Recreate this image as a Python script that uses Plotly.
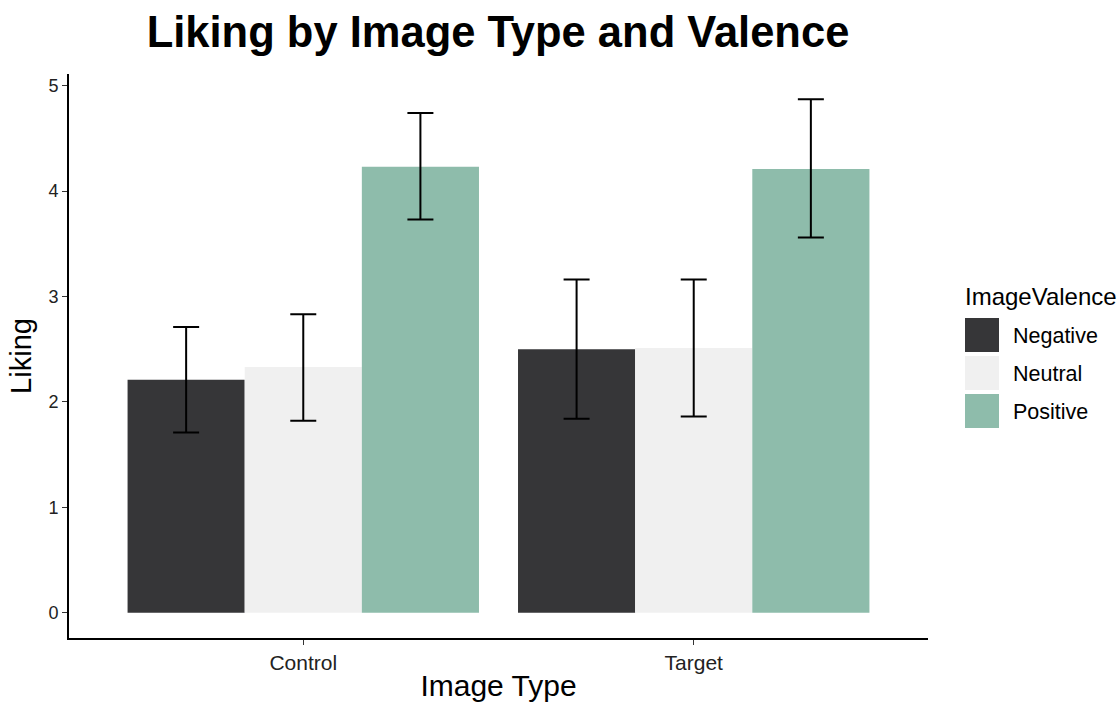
import plotly.graph_objects as go

categories = ["Control", "Target"]
valences = ["Negative", "Neutral", "Positive"]
liking = {
    "Negative": [2.21, 2.50],
    "Neutral": [2.33, 2.51],
    "Positive": [4.23, 4.21],
}
err_hi = {
    "Negative": [2.71, 3.16],
    "Neutral": [2.83, 3.16],
    "Positive": [4.74, 4.87],
}
err_lo = {
    "Negative": [1.71, 1.84],
    "Neutral": [1.82, 1.86],
    "Positive": [3.73, 3.56],
}
colors = {"Negative": "#363638", "Neutral": "#F0F0F0", "Positive": "#8EBCAB"}

FONT = "Liberation Sans, Arial, sans-serif"

W, H = 1119, 704
ML, MT = 69, 74
MR = W - 928
MB = H - 638

fig = go.Figure()
for v in valences:
    fig.add_trace(go.Bar(
        name=v, x=categories, y=liking[v],
        marker=dict(color=colors[v], line=dict(width=0)),
        error_y=dict(
            type="data", symmetric=False,
            array=[h - m for h, m in zip(err_hi[v], liking[v])],
            arrayminus=[m - l for m, l in zip(liking[v], err_lo[v])],
            color="black", thickness=2, width=13,
        ),
        showlegend=False,
    ))

fig.update_layout(
    width=W, height=H,
    barmode="group", bargap=0.1, bargroupgap=0,
    plot_bgcolor="white", paper_bgcolor="white",
    margin=dict(l=ML, r=MR, t=MT, b=MB),
    title=dict(text="<b>Liking by Image Type and Valence</b>",
               x=498 / W, xanchor="center",
               y=1 - 32 / H, yanchor="middle",
               font=dict(family=FONT, size=43.5, color="black")),
    font=dict(family=FONT),
)
fig.update_xaxes(
    range=[-0.6, 1.6], showline=True, linecolor="black", linewidth=2,
    ticks="outside", ticklen=5, tickcolor="#333333", tickwidth=1,
    tickfont=dict(size=21, color="#222222"),
    title=dict(text="Image Type", font=dict(size=30, color="black"), standoff=2),
    showgrid=False, zeroline=False, automargin=False,
)
fig.update_yaxes(
    range=[-0.24, 5.11], showline=True, linecolor="black", linewidth=2,
    ticks="outside", ticklen=5, tickcolor="#333333", tickwidth=1,
    tickvals=[0, 1, 2, 3, 4, 5],
    tickfont=dict(size=18, color="#222222"),
    title=dict(text="Liking", font=dict(size=29, color="black"), standoff=8),
    showgrid=False, zeroline=False, automargin=False,
)

# Manual legend (ggplot style), positions given in page pixels
PW, PH = W - ML - MR, H - MT - MB

def px_to_paper(x, y):
    return (x - ML) / PW, 1 - (y - MT) / PH

tx, ty = px_to_paper(963, 296)
fig.add_annotation(text="ImageValence", x=tx, y=ty, xref="paper", yref="paper",
                   xanchor="left", yanchor="middle", showarrow=False,
                   font=dict(family=FONT, size=24, color="black"))
key_tops = [318, 356, 394]
for v, top in zip(valences, key_tops):
    x0, y0 = px_to_paper(965, top)
    x1, y1 = px_to_paper(999, top + 34)
    fig.add_shape(type="rect", x0=x0, x1=x1, y0=y1, y1=y0, xref="paper", yref="paper",
                  fillcolor=colors[v], line=dict(width=0))
    lx, ly = px_to_paper(1011, top + 18)
    fig.add_annotation(text=v, x=lx, y=ly, xref="paper", yref="paper",
                       xanchor="left", yanchor="middle", showarrow=False,
                       font=dict(family=FONT, size=21.5, color="black"))

fig.write_html(
    "out.html",
    config={"displayModeBar": False},
    post_script="document.body.style.margin='0';document.documentElement.style.overflow='hidden';",
)
